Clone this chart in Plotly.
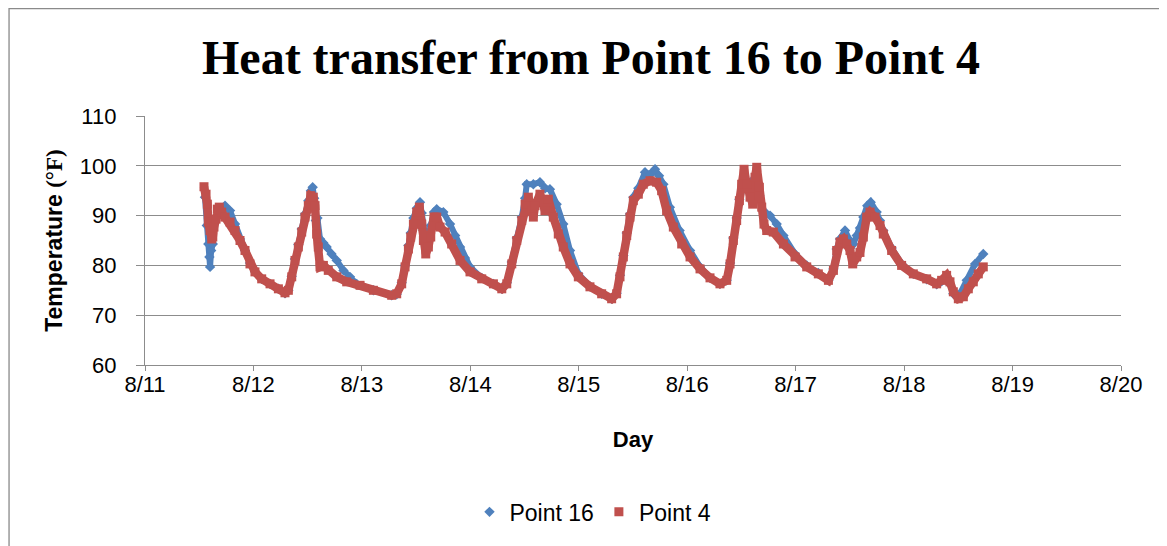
import plotly.graph_objects as go

# Day of August (fractional) and temperature in deg F
P16_DAY = [
    11.553, 11.570, 11.584, 11.594, 11.600, 11.610, 11.625, 11.645, 11.676, 11.705,
    11.738, 11.784, 11.830, 11.876, 11.922, 11.968, 12.014, 12.076, 12.153, 12.230,
    12.291, 12.322, 12.353, 12.383, 12.414, 12.445, 12.475, 12.506, 12.530, 12.546,
    12.560, 12.575, 12.590, 12.614, 12.645, 12.675, 12.720, 12.768, 12.830, 12.890,
    12.952, 13.106, 13.275, 13.321, 13.367, 13.398, 13.429, 13.450, 13.475, 13.506,
    13.536, 13.552, 13.567, 13.589, 13.613, 13.635, 13.665, 13.690, 13.751, 13.813,
    13.860, 13.905, 13.950, 13.997, 14.105, 14.213, 14.290, 14.336, 14.382, 14.428,
    14.474, 14.505, 14.520, 14.581, 14.642, 14.690, 14.734, 14.796, 14.857, 14.919,
    14.996, 15.103, 15.211, 15.303, 15.349, 15.380, 15.411, 15.442, 15.472, 15.503,
    15.549, 15.611, 15.660, 15.703, 15.740, 15.780, 15.840, 15.930, 16.026, 16.118,
    16.210, 16.302, 16.364, 16.395, 16.425, 16.456, 16.481, 16.518, 16.560, 16.600,
    16.640, 16.665, 16.702, 16.764, 16.825, 16.887, 16.994, 17.102, 17.209, 17.302,
    17.348, 17.378, 17.409, 17.455, 17.500, 17.532, 17.563, 17.593, 17.624, 17.660,
    17.692, 17.747, 17.777, 17.808, 17.885, 17.977, 18.085, 18.208, 18.300, 18.346,
    18.392, 18.423, 18.454, 18.500, 18.515, 18.577, 18.654, 18.730,
]
P16_TEMP = [
    93.7, 88.0, 84.3, 81.7, 79.7, 83.0, 84.3, 89.0, 91.3, 91.5,
    92.0, 91.0, 88.3, 85.3, 83.0, 80.5, 78.8, 77.3, 76.3, 75.3,
    74.4, 75.0, 77.8, 81.3, 84.2, 87.3, 90.3, 93.0, 95.0, 95.7,
    93.5, 89.0, 89.5, 85.3, 84.5, 83.7, 82.3, 81.0, 79.0, 77.7,
    76.3, 75.0, 74.0, 74.2, 76.5, 80.0, 84.0, 86.5, 89.5, 91.5,
    92.7, 90.5, 87.0, 85.0, 86.0, 88.0, 90.7, 91.3, 90.7, 88.3,
    86.0, 83.7, 81.5, 79.7, 77.5, 76.3, 75.3, 76.5, 80.7, 85.5,
    89.7, 93.5, 96.3, 96.3, 96.7, 95.5, 95.3, 92.3, 88.3, 83.0,
    78.3, 75.8, 74.3, 73.3, 74.4, 78.0, 82.0, 86.5, 90.3, 93.7,
    95.5, 98.7, 98.3, 99.3, 98.0, 96.3, 91.7, 87.0, 83.0, 79.7,
    77.5, 76.3, 77.0, 80.5, 85.5, 89.5, 93.3, 96.7, 95.7, 97.0,
    96.0, 94.0, 91.0, 90.0, 88.3, 86.0, 82.3, 80.0, 78.5, 77.0,
    79.3, 83.3, 85.3, 87.0, 85.0, 84.3, 86.0, 87.5, 89.7, 92.0,
    92.7, 90.7, 89.0, 87.0, 83.5, 80.3, 78.3, 77.2, 76.2, 76.8,
    77.6, 76.2, 74.3, 73.8, 74.3, 77.0, 80.3, 82.3,
]

P4_DAY = [
    11.544, 11.563, 11.575, 11.584, 11.600, 11.615, 11.625, 11.636, 11.655, 11.667,
    11.685, 11.707, 11.738, 11.784, 11.830, 11.876, 11.922, 11.968, 12.014, 12.076,
    12.153, 12.230, 12.291, 12.322, 12.353, 12.383, 12.414, 12.445, 12.475, 12.506,
    12.528, 12.552, 12.568, 12.583, 12.598, 12.614, 12.645, 12.690, 12.768, 12.860,
    12.983, 13.106, 13.275, 13.321, 13.367, 13.398, 13.429, 13.450, 13.475, 13.506,
    13.530, 13.552, 13.567, 13.589, 13.613, 13.635, 13.665, 13.690, 13.721, 13.767,
    13.828, 13.905, 13.997, 14.105, 14.213, 14.290, 14.336, 14.382, 14.428, 14.474,
    14.505, 14.535, 14.566, 14.581, 14.597, 14.642, 14.688, 14.719, 14.765, 14.811,
    14.857, 14.919, 14.996, 15.103, 15.211, 15.303, 15.349, 15.380, 15.411, 15.442,
    15.472, 15.503, 15.549, 15.595, 15.657, 15.718, 15.764, 15.810, 15.872, 15.949,
    16.026, 16.118, 16.210, 16.302, 16.364, 16.395, 16.425, 16.456, 16.481, 16.502,
    16.524, 16.548, 16.579, 16.604, 16.625, 16.641, 16.665, 16.687, 16.708, 16.733,
    16.794, 16.887, 16.994, 17.102, 17.209, 17.302, 17.348, 17.378, 17.409, 17.440,
    17.471, 17.501, 17.526, 17.563, 17.593, 17.624, 17.655, 17.686, 17.732, 17.778,
    17.808, 17.885, 17.977, 18.085, 18.208, 18.300, 18.346, 18.392, 18.423, 18.454,
    18.500, 18.546, 18.592, 18.638, 18.684, 18.730,
]
P4_TEMP = [
    95.8, 94.3, 92.3, 88.7, 87.0, 85.3, 85.7, 87.7, 89.3, 91.3,
    91.7, 90.7, 89.7, 88.7, 87.0, 85.0, 83.0, 80.3, 78.7, 77.3,
    76.3, 75.3, 74.5, 75.0, 77.7, 81.0, 83.7, 86.7, 89.7, 92.0,
    94.0, 93.7, 92.0, 86.3, 83.7, 79.7, 80.0, 79.0, 77.7, 76.7,
    76.0, 75.0, 74.0, 74.3, 76.3, 79.7, 83.3, 85.7, 88.3, 90.7,
    91.7, 88.3, 85.0, 82.3, 83.7, 85.7, 89.7, 89.7, 87.7, 86.7,
    84.3, 81.0, 78.7, 77.3, 76.3, 75.3, 76.3, 80.3, 85.0, 89.0,
    92.3, 93.7, 91.0, 89.7, 92.0, 94.3, 91.0, 93.3, 89.7, 86.3,
    83.7, 80.3, 77.7, 75.7, 74.3, 73.3, 74.3, 77.7, 81.7, 86.0,
    89.7, 93.0, 94.3, 96.3, 97.0, 96.7, 95.0, 91.0, 87.7, 84.3,
    81.7, 79.3, 77.5, 76.3, 77.0, 80.3, 85.0, 89.0, 93.0, 96.3,
    99.3, 96.3, 93.7, 92.3, 97.7, 99.7, 95.7, 91.7, 88.3, 87.0,
    86.7, 84.3, 81.7, 79.7, 78.3, 77.0, 79.0, 83.0, 84.7, 85.3,
    84.3, 83.0, 80.3, 81.7, 82.6, 85.7, 89.7, 90.7, 89.7, 88.0,
    86.3, 83.0, 80.0, 78.3, 77.3, 76.3, 77.0, 78.0, 76.7, 74.7,
    73.3, 73.7, 75.3, 76.7, 78.3, 79.7,
]

DAY_TICKS = [11, 12, 13, 14, 15, 16, 17, 18, 19, 20]
DAY_LABELS = ["8/%d" % d for d in DAY_TICKS]

BLUE = "#4F81BD"
RED = "#C0504D"
GRID = "#8C8C8C"
SANS = "Liberation Sans, Arial, sans-serif"
SERIF = "Liberation Serif, Times New Roman, serif"

fig = go.Figure()

# dense marker clouds in the original read as a thick ribbon -> line underneath the markers
fig.add_trace(go.Scatter(x=P16_DAY, y=P16_TEMP, mode="lines", showlegend=False,
                         line=dict(color=BLUE, width=6), hoverinfo="skip"))
fig.add_trace(go.Scatter(x=P16_DAY, y=P16_TEMP, mode="markers", name="Point 16",
                         marker=dict(symbol="diamond", size=8, color=BLUE)))
fig.add_trace(go.Scatter(x=P4_DAY, y=P4_TEMP, mode="lines", showlegend=False,
                         line=dict(color=RED, width=8.5), hoverinfo="skip"))
fig.add_trace(go.Scatter(x=P4_DAY, y=P4_TEMP, mode="markers", name="Point 4",
                         marker=dict(symbol="square", size=9, color=RED)))

# page body keeps its default 8px margin, so the figure is laid out 8px in
fig.update_layout(
    width=1167, height=546, autosize=False,
    margin=dict(l=137, r=54, t=108, b=189, autoexpand=False),
    paper_bgcolor="white", plot_bgcolor="white",
    font=dict(family=SANS, size=22, color="black"),
    title=dict(
        text="<b>Heat transfer from Point 16 to Point 4</b>",
        font=dict(family=SERIF, size=48, color="black"),
        x=0.4996, xanchor="center", xref="container",
        y=0.910, yanchor="middle", yref="container",
    ),
    xaxis=dict(
        range=[11, 20], tickvals=DAY_TICKS, ticktext=DAY_LABELS,
        showgrid=False, zeroline=False, tickangle=0,
        showline=True, linecolor=GRID, linewidth=1.3,
        ticks="outside", ticklen=5, tickcolor=GRID, tickwidth=1.3,
        tickfont=dict(size=22), ticklabelstandoff=-6,
        title=dict(text="<b>Day</b>", font=dict(size=22), standoff=36),
    ),
    yaxis=dict(
        range=[60, 110], tickvals=[60, 70, 80, 90, 100, 110],
        showgrid=True, gridcolor=GRID, gridwidth=1.3, zeroline=False,
        showline=True, linecolor=GRID, linewidth=1.3,
        ticks="outside", ticklen=8, tickcolor=GRID, tickwidth=1.3,
        tickfont=dict(size=22), ticklabelstandoff=15,
        title=dict(
            text="<b>Temperature <span style='font-family:Liberation Serif'>(°F)</span></b>",
            font=dict(size=23), standoff=10,
        ),
    ),
    legend=dict(
        orientation="h", xref="paper", x=0.459, xanchor="center",
        yref="paper", y=-0.59, yanchor="middle", font=dict(size=23),
        itemsizing="trace",
    ),
    shapes=[dict(
        type="rect", xref="paper", yref="paper",
        x0=-0.1393, x1=1.041, y0=-0.8, y1=1.4317,
        line=dict(color="#8A8A8A", width=1.3), fillcolor="rgba(0,0,0,0)",
    )],
)

fig.write_html("out.html")
